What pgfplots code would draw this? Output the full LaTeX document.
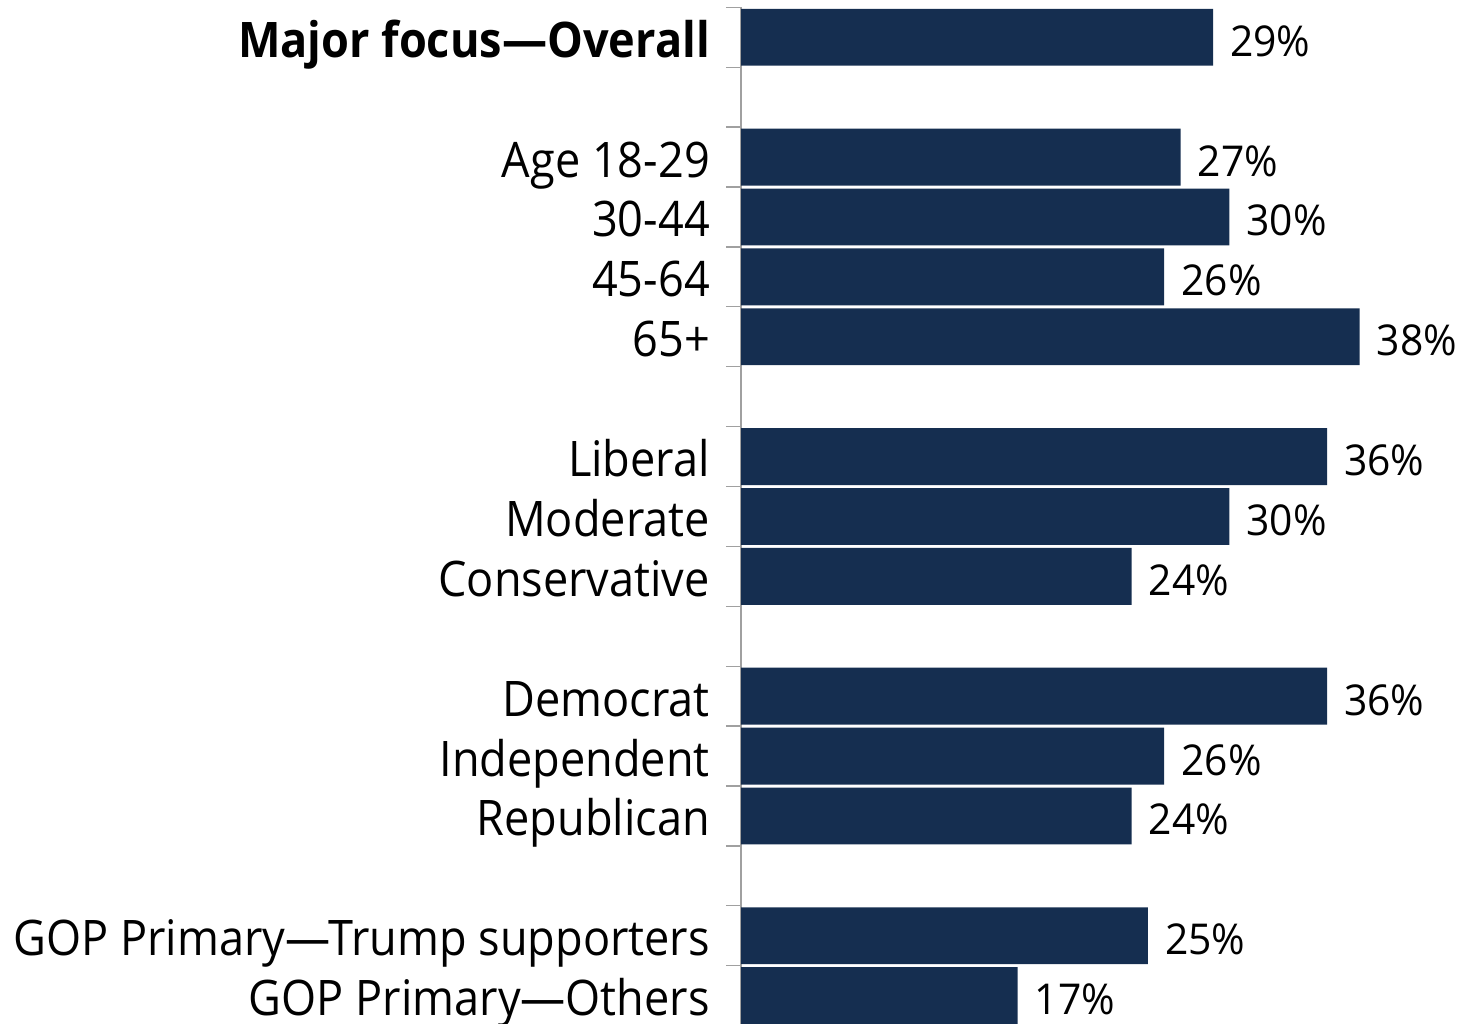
\documentclass[border=0pt]{standalone}
\usepackage{pgfplots}
\pgfplotsset{compat=1.18}
\usepackage{fontspec}
\setmainfont[FakeStretch=0.92]{Open Sans}
\newfontfamily\valfont[FakeStretch=0.96]{Open Sans}
\definecolor{barblue}{HTML}{152E50}
\definecolor{axgray}{HTML}{A0A0A0}
\begin{document}
\begin{tikzpicture}
\path[use as bounding box] (0,0) rectangle (1461pt,-1023pt);
\begin{axis}[
  at={(741pt,-7.3pt)}, anchor=north west,
  scale only axis,
  width=720pt, height=1018.3pt,
  xmin=0, xmax=44.23,
  ymin=-0.5, ymax=16.5,
  y dir=reverse,
  axis x line=none,
  axis y line*=left,
  y axis line style={axgray, line width=1.3pt, -},
  xbar, bar width=0.95, bar shift=0pt,
  ytick={0,2,3,4,5,7,8,9,11,12,13,15,16},
  yticklabels={\textbf{Major focus—Overall},Age 18-29,30-44,45-64,65+,Liberal,Moderate,Conservative,Democrat,Independent,Republican,GOP Primary—Trump supporters,GOP Primary—Others},
  major tick length=0pt,
  tick align=outside,
  yticklabel style={font=\fontsize{49}{58}\selectfont, anchor=base east, inner sep=0pt, xshift=-31pt, yshift=-20pt},
  extra y ticks={-0.5,0.5,1.5,2.5,3.5,4.5,5.5,6.5,7.5,8.5,9.5,10.5,11.5,12.5,13.5,14.5,15.5,16.5},
  extra y tick labels={},
  extra y tick style={major tick length=15pt, tick style={axgray, line width=1.3pt}},
  /pgf/number format/assume math mode=true,
  nodes near coords={\pgfmathprintnumber{\pgfplotspointmeta}\%},
  nodes near coords style={font=\valfont\fontsize{42.5}{50}\selectfont, anchor=base west, inner sep=0pt, xshift=17pt, yshift=-19pt, text=black},
  clip=false,
]
\addplot[fill=barblue, draw=none] table[x=v, y=r] {
r v
0 29
2 27
3 30
4 26
5 38
7 36
8 30
9 24
11 36
12 26
13 24
15 25
16 17
};
\end{axis}
\end{tikzpicture}
\end{document}
